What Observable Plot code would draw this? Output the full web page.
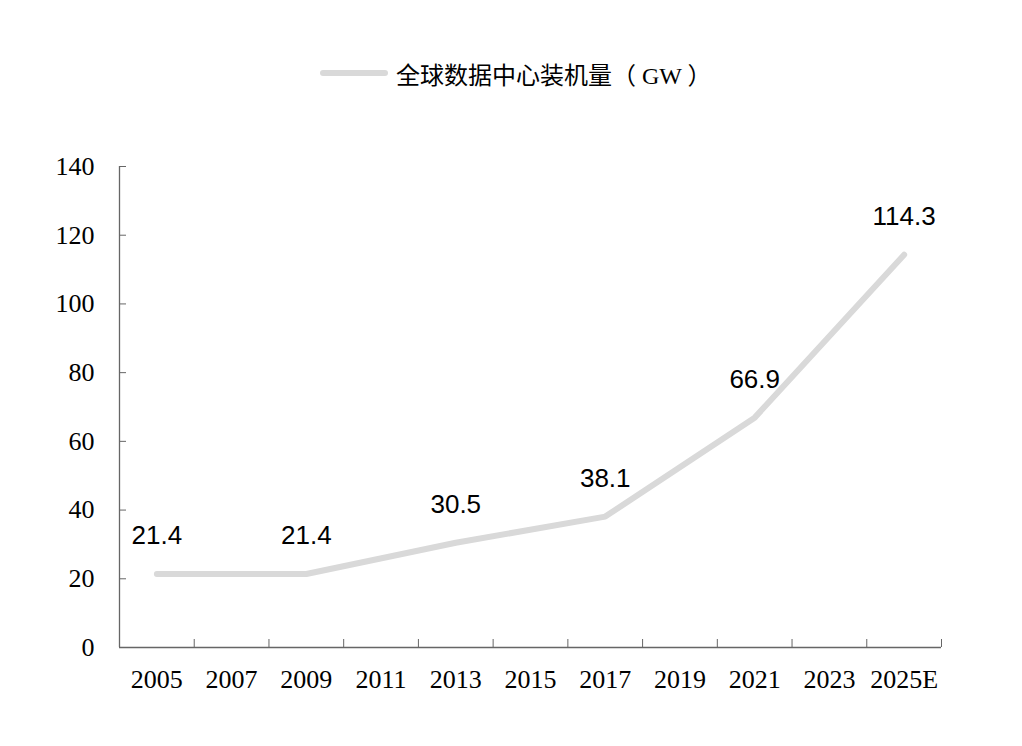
<!DOCTYPE html>
<html>
<head>
<meta charset="utf-8">
<script src="https://cdn.jsdelivr.net/npm/d3@7"></script>
<script src="https://cdn.jsdelivr.net/npm/@observablehq/plot@0.6"></script>
<style>
  html, body { margin: 0; padding: 0; background: #fff; }
  #wrap { position: relative; width: 1022px; height: 746px; overflow: hidden; }
  #legend { position: absolute; z-index: 2; left: 320px; top: 56px; height: 34px; display: flex; align-items: center;
    font-family: "Liberation Serif", "Noto Sans CJK SC", serif; font-size: 24px; color: #000; }
  #legend .sw { width: 68px; height: 6px; border-radius: 3px; background: #d9d9d9; margin-right: 8px; }
  #chart { position: absolute; z-index: 1; left: 0; top: 0; }
</style>
</head>
<body>
<div id="wrap">
  <div id="legend"><span class="sw"></span><span>全球数据中心装机量（ GW ）</span></div>
  <div id="chart"></div>
</div>
<script>
const categories = ["2005","2007","2009","2011","2013","2015","2017","2019","2021","2023","2025E"];
const years = ["2005","2009","2013","2017","2021","2025E"];
const values = [21.4, 21.4, 30.5, 38.1, 66.9, 114.3];
const yTicks = [0, 20, 40, 60, 80, 100, 120, 140];

const data = years.map((c, i) => ({ pos: categories.indexOf(c) + 0.5, v: values[i], label: String(values[i]) }));
const centers = categories.map((c, i) => i + 0.5);
const bounds = d3.range(1, categories.length + 1);

const chart = Plot.plot({
  width: 1022,
  height: 746,
  marginLeft: 119,
  marginRight: 81,
  marginTop: 166,
  marginBottom: 99,
  style: { fontFamily: "Liberation Serif, serif", fontSize: "26px", color: "#000", background: "transparent" },
  x: { type: "linear", domain: [0, categories.length], label: null },
  y: { domain: [0, 140], label: null },
  marks: [
    Plot.axisY({ ticks: yTicks, tickSize: 0, tickPadding: 25, tickFormat: d => String(d), fontSize: 26, label: null }),
    Plot.axisY({ ticks: yTicks.slice(1), tickSize: -7, tickFormat: () => "", stroke: "#666", label: null }),
    Plot.axisX({ ticks: centers, tickSize: 0, tickPadding: 22, tickFormat: d => categories[Math.floor(d)], fontSize: 26, label: null }),
    Plot.axisX({ ticks: bounds, tickSize: -8, tickFormat: () => "", stroke: "#666", label: null }),
    Plot.ruleY([0], { stroke: "#666", strokeWidth: 1.3 }),
    Plot.ruleX([0], { stroke: "#666", strokeWidth: 1.3 }),
    Plot.line(data, { x: "pos", y: "v", stroke: "#d9d9d9", strokeWidth: 6, strokeLinecap: "round", strokeLinejoin: "round" }),
    Plot.text(data, { x: "pos", y: "v", text: "label", dy: -38, fontSize: 26, fontFamily: "Liberation Sans, Arial, sans-serif", fill: "#000" })
  ]
});
document.getElementById("chart").appendChild(chart);
</script>
</body>
</html>
